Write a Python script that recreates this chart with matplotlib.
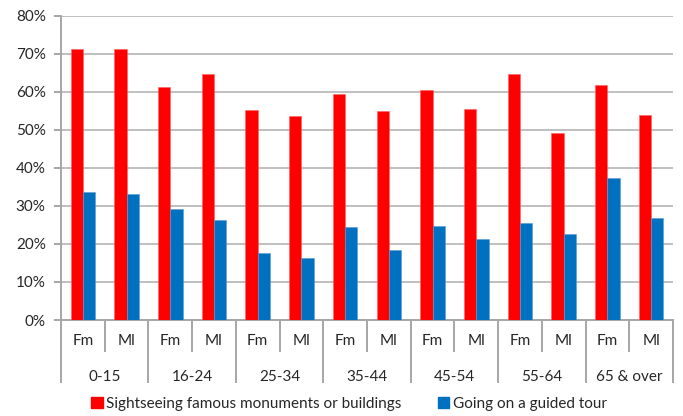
import matplotlib
matplotlib.use("Agg")
import matplotlib.pyplot as plt
from matplotlib.patches import Patch
from matplotlib.transforms import blended_transform_factory
import numpy as np

plt.rcParams["font.family"] = ["Lato", "DejaVu Sans"]

age_groups = ["0-15", "16-24", "25-34", "35-44", "45-54", "55-64", "65 & over"]
sexes = ["Fm", "Ml"]
sightseeing = [71.2, 71.2, 61.1, 64.6, 55.3, 53.5, 59.3, 55.0, 60.5, 55.4, 64.6, 49.1, 61.8, 53.9]
guided_tour = [33.5, 33.1, 29.1, 26.4, 17.6, 16.3, 24.5, 18.3, 24.6, 21.2, 25.6, 22.7, 37.2, 26.7]
series_names = ["Sightseeing famous monuments or buildings", "Going on a guided tour"]

red = "#FF0000"
blue = "#0070C0"
axis_grey = "#A6A6A6"
text_col = "#262626"

fig = plt.figure(figsize=(6.83, 4.16), dpi=100)
ax = fig.add_axes([61 / 683, 1 - 320 / 416, 612 / 683, 304.5 / 416])

x = np.arange(len(sightseeing))
w = 0.28
ax.bar(x - w / 2, sightseeing, w, color=red, edgecolor="#FF6060", linewidth=0.4, zorder=3)
ax.bar(x + w / 2, guided_tour, w, color=blue, edgecolor="#5A9BD5", linewidth=0.4, zorder=3)

ax.set_xlim(-0.5, len(x) - 0.5)
ax.set_ylim(0, 80)
ax.set_yticks(np.arange(0, 81, 10))
ax.set_yticklabels([f"{v}%" for v in range(0, 81, 10)])
ax.yaxis.grid(True, color="#BFBFBF", linewidth=1.4, zorder=0)
ax.set_axisbelow(True)
ax.set_xticks([])
for s in ["top", "right"]:
    ax.spines[s].set_visible(False)
for s in ["left", "bottom"]:
    ax.spines[s].set_color(axis_grey)
    ax.spines[s].set_linewidth(1.4)
ax.tick_params(axis="y", length=5, width=1.4, color=axis_grey, labelsize=11,
               labelcolor=text_col, pad=6)

# two-level category axis under the plot
tr = blended_transform_factory(ax.transData, fig.transFigure)
y0 = 1 - 320 / 416
for i in range(len(x)):
    ax.text(i, 1 - 341 / 416, sexes[i % 2], transform=tr, ha="center", va="center",
            fontsize=11, color=text_col)
for i in range(len(x) + 1):
    bottom = 1 - 382 / 416 if i % 2 == 0 else 1 - 351 / 416
    ax.plot([i - 0.5, i - 0.5], [y0, bottom], transform=tr, color=axis_grey,
            linewidth=1.4, clip_on=False)
for g, name in enumerate(age_groups):
    ax.text(2 * g + 0.5, 1 - 377 / 416, name, transform=tr, ha="center", va="center",
            fontsize=11, color=text_col)

handles = [Patch(color=red), Patch(color=blue)]
fig.legend(handles, series_names, loc="center", bbox_to_anchor=(349 / 683, 1 - 404 / 416),
           ncol=2, frameon=False, fontsize=11, handlelength=0.75, handleheight=0.75,
           handletextpad=0.2, columnspacing=2.4, labelcolor=text_col)

fig.savefig("out.png", dpi=100)
